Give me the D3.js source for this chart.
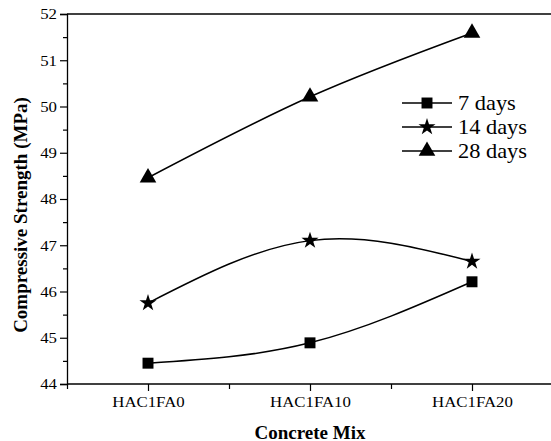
<!DOCTYPE html>
<html>
<head>
<meta charset="utf-8">
<script src="https://cdn.jsdelivr.net/npm/d3@7"></script>
<style>
  body { margin: 0; background: #fff; }
  svg, svg text { font-family: "Times New Roman", "Liberation Serif", "DejaVu Serif", serif !important; }
</style>
</head>
<body>
<div id="chart"></div>
<script>
const mixes = ["HAC1FA0", "HAC1FA10", "HAC1FA20"];
const days7 = [44.45, 44.89, 46.21];
const days14 = [45.75, 47.10, 46.65];
const days28 = [48.46, 50.21, 51.59];
const yTicks = [44, 45, 46, 47, 48, 49, 50, 51, 52];

const series = [
  { name: "7 days", values: days7, symbol: d3.symbolSquare, size: 120 },
  { name: "14 days", values: days14, symbol: d3.symbolStar, size: 90 },
  { name: "28 days", values: days28, symbol: d3.symbolTriangle, size: 120 }
];

const width = 551, height = 441;
const stretch = 1.12; // the source text is a bit wider than plain Times

const svg = d3.select("#chart").append("svg")
  .attr("width", width)
  .attr("height", height);

const x = d3.scaleLinear().domain([-0.5, 2.5]).range([67, 553]);
const y = d3.scaleLinear().domain([44, 52]).range([384, 14]);

// frame top line
svg.append("line")
  .attr("x1", x(-0.5)).attr("x2", width)
  .attr("y1", y(52)).attr("y2", y(52))
  .attr("stroke", "#000").attr("stroke-width", 1.3);

// y axis
const yAxis = svg.append("g")
  .attr("transform", `translate(${x(-0.5)},0)`)
  .call(d3.axisLeft(y).tickValues(yTicks).tickSize(7).tickPadding(3).tickFormat(d3.format("d")));
yAxis.attr("font-family", null);
yAxis.select(".domain").attr("stroke-width", 1.3);
yAxis.selectAll(".tick line").attr("stroke-width", 1.2);
yAxis.selectAll("text")
  .attr("font-size", 15).attr("fill", "#000")
  .attr("x", -10 / stretch)
  .attr("transform", `scale(${stretch},1)`);

svg.append("g")
  .attr("transform", `translate(${x(-0.5)},0)`)
  .call(d3.axisLeft(y).tickValues(d3.range(44.5, 52, 1)).tickSize(4).tickFormat(""))
  .call(g => g.select(".domain").remove())
  .selectAll(".tick line").attr("stroke-width", 1.2);

// x axis
const xAxis = svg.append("g")
  .attr("transform", `translate(0,${y(44)})`)
  .call(d3.axisBottom(x).tickValues([0, 1, 2]).tickSize(7).tickPadding(5).tickFormat(i => mixes[i]));
xAxis.attr("font-family", null);
xAxis.select(".domain").attr("d", `M${x(-0.5)},0H${width}`).attr("stroke-width", 1.3);
xAxis.selectAll(".tick line").attr("stroke-width", 1.2);
xAxis.selectAll("text")
  .attr("font-size", 15).attr("fill", "#000")
  .attr("transform", `scale(${stretch},1)`);

svg.append("g")
  .attr("transform", `translate(0,${y(44)})`)
  .call(d3.axisBottom(x).tickValues([-0.5, 0.5, 1.5]).tickSize(5).tickFormat(""))
  .call(g => g.select(".domain").remove())
  .selectAll(".tick line").attr("stroke-width", 1.2);

// axis titles
svg.append("text")
  .attr("transform", "translate(20,215) rotate(-90)")
  .attr("text-anchor", "middle")
  .attr("dominant-baseline", "central")
  .attr("font-size", 19)
  .attr("font-weight", "bold")
  .text("Compressive Strength (MPa)");

svg.append("text")
  .attr("x", 310).attr("y", 432)
  .attr("text-anchor", "middle")
  .attr("dominant-baseline", "central")
  .attr("font-size", 19)
  .attr("font-weight", "bold")
  .text("Concrete Mix");

// lines and markers
const line = d3.line()
  .x((d, i) => x(i))
  .y(d => y(d))
  .curve(d3.curveNatural);

series.forEach(s => {
  svg.append("path")
    .datum(s.values)
    .attr("d", line)
    .attr("fill", "none")
    .attr("stroke", "#000")
    .attr("stroke-width", 1.5);

  svg.selectAll(null)
    .data(s.values)
    .enter().append("path")
    .attr("transform", (d, i) => `translate(${x(i)},${y(d)})`)
    .attr("d", d3.symbol().type(s.symbol).size(s.size))
    .attr("fill", "#000");
});

// legend
const legend = svg.append("g");
series.forEach((s, i) => {
  const ly = 103 + i * 24;
  legend.append("line")
    .attr("x1", 402).attr("x2", 452)
    .attr("y1", ly).attr("y2", ly)
    .attr("stroke", "#000").attr("stroke-width", 1.5);
  legend.append("path")
    .attr("transform", `translate(427,${ly})`)
    .attr("d", d3.symbol().type(s.symbol).size(s.size))
    .attr("fill", "#000");
  legend.append("text")
    .attr("transform", `translate(458,${ly}) scale(${stretch},1)`)
    .attr("dominant-baseline", "central")
    .attr("font-size", 20)
    .text(s.name);
});
</script>
</body>
</html>
